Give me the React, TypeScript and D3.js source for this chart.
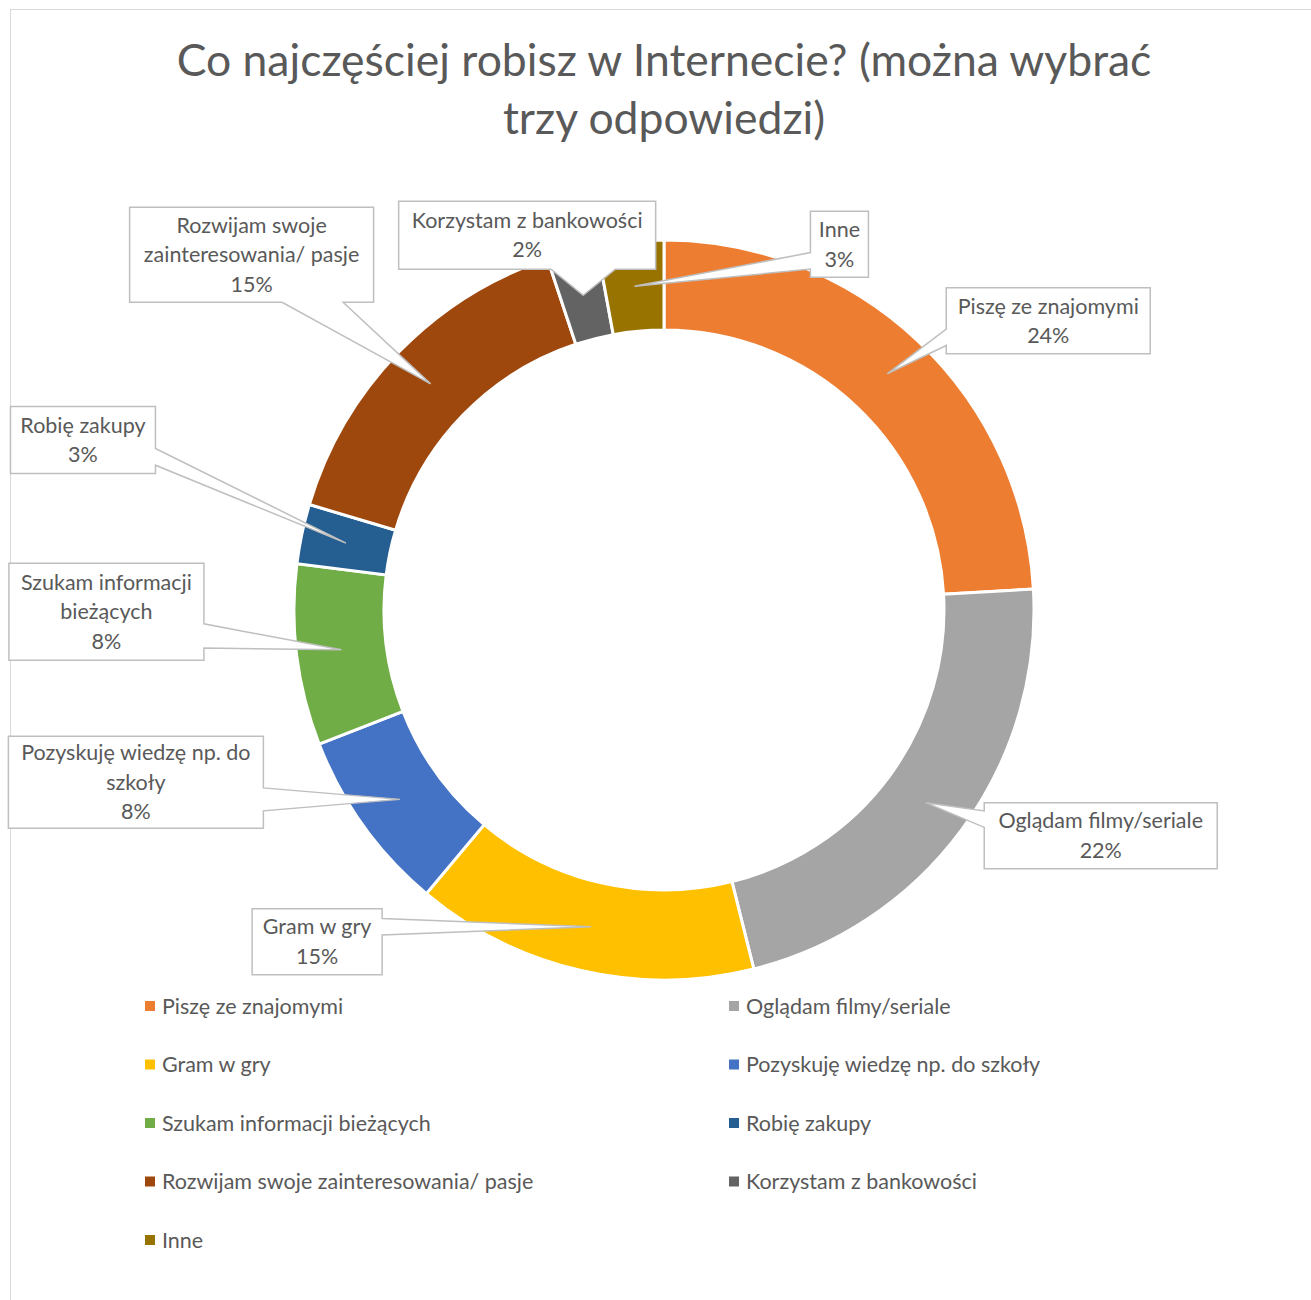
import React from "react"
import * as d3 from "d3"

const categories = [
  "Piszę ze znajomymi",
  "Oglądam filmy/seriale",
  "Gram w gry",
  "Pozyskuję wiedzę np. do szkoły",
  "Szukam informacji bieżących",
  "Robię zakupy",
  "Rozwijam swoje zainteresowania/ pasje",
  "Korzystam z bankowości",
  "Inne",
]
const values = [24.1, 22, 15, 8, 7.9, 2.6, 15.3, 2.2, 2.9]
const colors = ["#ED7D31", "#A5A5A5", "#FFC000", "#4472C4", "#70AD47", "#255E91", "#9E480E", "#636363", "#997300"]
const titleLines = ["Co najczęściej robisz w Internecie? (można wybrać", "trzy odpowiedzi)"]

// how the label text wraps inside each callout
const labelLines = [
  ["Piszę ze znajomymi"],
  ["Oglądam filmy/seriale"],
  ["Gram w gry"],
  ["Pozyskuję wiedzę np. do", "szkoły"],
  ["Szukam informacji", "bieżących"],
  ["Robię zakupy"],
  ["Rozwijam swoje", "zainteresowania/ pasje"],
  ["Korzystam z bankowości"],
  ["Inne"],
]
// callout box placement (offset of box centre from slice centroid) and size
const labelOffsets = [[161, -53], [175, 33], [-274, 15], [-264, -17], [-235, -38], [-263, -103], [-179, -129], [-56, -60], [205, -42]]
const labelSizes = [[204, 66], [233, 66], [130, 66], [255, 92], [195, 97], [145, 67], [244, 95], [257, 68], [58, 66]]

const W = 1311, H = 1300
const cx = 664, cy = 610
const rOuter = 370, rInner = 280
const font = "Lato, 'DejaVu Sans', sans-serif"
const textColor = "#595959"

function calloutPath(bx: number, by: number, w: number, h: number, tx: number, ty: number) {
  const l = bx - w / 2, r = bx + w / 2, t = by - h / 2, b = by + h / 2
  const ex = Math.max(l - tx, tx - r, 0)
  const ey = Math.max(t - ty, ty - b, 0)
  const clamp = (v: number, a: number, z: number) => Math.max(a, Math.min(z, v))
  let side = "none"
  if (ex > 0 || ey > 0) side = ey > ex ? (ty < t ? "top" : "bottom") : (tx < l ? "left" : "right")
  const bxC = clamp(tx, l + w / 4, r - w / 4), hwX = w / 8
  const byC = clamp(ty, t + h / 4, b - h / 4), hwY = h / 8
  let p = `M${l},${t}`
  if (side === "top") p += `L${bxC - hwX},${t}L${tx},${ty}L${bxC + hwX},${t}`
  p += `L${r},${t}`
  if (side === "right") p += `L${r},${byC - hwY}L${tx},${ty}L${r},${byC + hwY}`
  p += `L${r},${b}`
  if (side === "bottom") p += `L${bxC + hwX},${b}L${tx},${ty}L${bxC - hwX},${b}`
  p += `L${l},${b}`
  if (side === "left") p += `L${l},${byC + hwY}L${tx},${ty}L${l},${byC - hwY}`
  return p + "Z"
}

export default function App() {
  const data = categories.map((c, i) => ({ name: c, value: values[i], color: colors[i] }))
  const pie = d3.pie<any>().sort(null).value(d => d.value)
  const arcs = pie(data)
  const arc = d3.arc<any>().innerRadius(rInner).outerRadius(rOuter)
  const total = d3.sum(values)
  const pct = d3.format(".0%")

  const legendCol = [145, 729]
  const legendRow = d3.scaleLinear().domain([0, 1]).range([1006, 1064.5])

  return (
    <svg width={W} height={H} style={{ position: "absolute", left: 0, top: 0, background: "#fff" }} fontFamily={font}>
      <rect x={10.5} y={9.5} width={1400} height={1400} fill="#fff" stroke="#d9d9d9" strokeWidth={1} />
      {titleLines.map((t, i) => (
        <text key={i} x={cx} y={76 + i * 58} textAnchor="middle" fontSize={44.5} fill={textColor}>{t}</text>
      ))}
      <g transform={`translate(${cx},${cy})`}>
        {arcs.map((a, i) => (
          <path key={i} d={arc(a) as string} fill={a.data.color} stroke="#fff" strokeWidth={3} />
        ))}
      </g>
      {arcs.map((a, i) => {
        const [mx, my] = arc.centroid(a)
        const tx = cx + mx, ty = cy + my
        const bx = tx + labelOffsets[i][0], by = ty + labelOffsets[i][1]
        const [w, h] = labelSizes[i]
        const lines = [...labelLines[i], pct(a.data.value / total)]
        return (
          <g key={i}>
            <path d={calloutPath(bx, by, w, h, tx, ty)} fill="#fff" stroke="#bfbfbf" strokeWidth={1.5} />
            {lines.map((ln, j) => (
              <text key={j} x={bx} y={by + (j - (lines.length - 1) / 2) * 29.5} dy="0.35em"
                textAnchor="middle" fontSize={21.5} fill={textColor}>{ln}</text>
            ))}
          </g>
        )
      })}
      {data.map((d, i) => {
        const x = legendCol[i % 2]
        const y = legendRow(Math.floor(i / 2))
        return (
          <g key={i}>
            <rect x={x} y={y - 5} width={10} height={10} fill={d.color} />
            <text x={x + 17} y={y} dy="0.35em" fontSize={21.5} fill={textColor}>{d.name}</text>
          </g>
        )
      })}
    </svg>
  )
}
